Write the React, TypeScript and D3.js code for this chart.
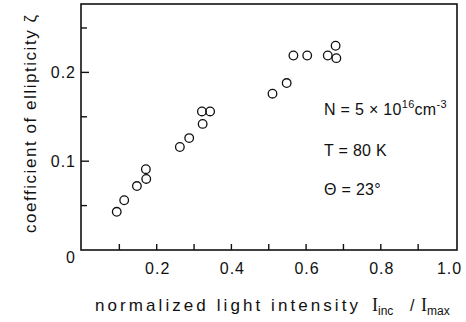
import { useEffect, useRef } from 'react'
import * as d3 from 'd3'

// intensity I_inc / I_max
const intensity = [
  0.093, 0.113, 0.147, 0.172, 0.171,
  0.262, 0.287, 0.323, 0.321, 0.343,
  0.510, 0.548, 0.566, 0.603, 0.658, 0.681, 0.679,
]
// coefficient of ellipticity
const ellipticity = [
  0.043, 0.056, 0.072, 0.080, 0.091,
  0.116, 0.126, 0.142, 0.156, 0.156,
  0.176, 0.188, 0.219, 0.219, 0.219, 0.216, 0.230,
]

const xTicks = [0.1, 0.2, 0.3, 0.4, 0.5, 0.6, 0.7, 0.8, 0.9]
const xLabels = [0.2, 0.4, 0.6, 0.8, 1.0]
const yTicks = [0.05, 0.1, 0.15, 0.2, 0.25]
const yLabels = [0, 0.1, 0.2]

const WIDTH = 466
const HEIGHT = 322
const FONT = '"Liberation Sans", Arial, sans-serif'
const SERIF = '"Liberation Serif", serif'

export default function App() {
  const svgRef = useRef<SVGSVGElement>(null)

  useEffect(() => {
    if (!svgRef.current) return
    const svg = d3.select(svgRef.current)
    svg.selectAll('*').remove()

    const x = d3.scaleLinear().domain([0, 1]).range([82, 455.5])
    const y = d3.scaleLinear().domain([0, 0.277]).range([250, 4])

    const left = x(0) - 1
    const right = x(1.004)
    const top = y(0.277)
    const bottom = y(0)

    // frame
    svg.append('rect')
      .attr('x', left).attr('y', top)
      .attr('width', right - left).attr('height', bottom - top)
      .attr('fill', 'none').attr('stroke', '#111').attr('stroke-width', 1.6)

    // ticks point inward
    const g = svg.append('g').attr('stroke', '#111').attr('stroke-width', 1.4)
    xTicks.forEach(t => {
      g.append('line')
        .attr('x1', x(t)).attr('x2', x(t))
        .attr('y1', bottom).attr('y2', bottom - 6)
    })
    yTicks.forEach(t => {
      g.append('line')
        .attr('x1', left).attr('x2', left + (t === 0.1 || t === 0.2 ? 8 : 6))
        .attr('y1', y(t)).attr('y2', y(t))
    })

    const txt = svg.append('g')
      .attr('font-family', FONT).attr('fill', '#111')

    xLabels.forEach(t => {
      txt.append('text')
        .attr('x', t === 1 ? x(t) - 6 : x(t) + 1)
        .attr('y', 274)
        .attr('text-anchor', 'middle')
        .attr('font-size', 16)
        .attr('letter-spacing', 1)
        .text(d3.format('.1f')(t))
    })
    yLabels.forEach(t => {
      txt.append('text')
        .attr('x', 76)
        .attr('y', t === 0 ? y(t) + 13 : y(t) + 6)
        .attr('text-anchor', 'end')
        .attr('font-size', 16)
        .attr('letter-spacing', 1)
        .text(t === 0 ? '0' : d3.format('.1f')(t))
    })

    // x title
    txt.append('text')
      .attr('x', 95).attr('y', 311)
      .attr('font-size', 17)
      .attr('textLength', 263)
      .attr('lengthAdjust', 'spacing')
      .text('normalized light intensity')
    const sub = (x0: number, label: string) => {
      const t = txt.append('text').attr('x', x0).attr('y', 311)
      t.append('tspan').attr('font-family', SERIF).attr('font-size', 18).text('I')
      t.append('tspan').attr('dy', 4).attr('font-size', 12).text(label)
    }
    sub(372, 'inc')
    txt.append('text').attr('x', 410).attr('y', 311).attr('font-size', 16).text('/')
    sub(421, 'max')

    // y title
    txt.append('text')
      .attr('transform', 'translate(36,124) rotate(-90)')
      .attr('text-anchor', 'middle')
      .attr('font-size', 17)
      .attr('textLength', 218)
      .attr('lengthAdjust', 'spacing')
      .text('coefficient of ellipticity ζ')

    // annotations
    const n = txt.append('text').attr('x', 324).attr('y', 115).attr('font-size', 16).attr('letter-spacing', 0.3)
    n.append('tspan').text('N = 5 × 10')
    n.append('tspan').attr('dy', -7).attr('font-size', 11).text('16')
    n.append('tspan').attr('dy', 7).text('cm')
    n.append('tspan').attr('dy', -7).attr('font-size', 11).text('-3')

    txt.append('text').attr('x', 324).attr('y', 156).attr('font-size', 16).attr('letter-spacing', 0.3).text('T = 80 K')
    txt.append('text').attr('x', 324).attr('y', 195).attr('font-size', 16).attr('letter-spacing', 0.3).text('Θ = 23°')

    // data points
    svg.append('g')
      .selectAll('circle')
      .data(intensity.map((v, i) => [v, ellipticity[i]]))
      .join('circle')
      .attr('cx', d => x(d[0]))
      .attr('cy', d => y(d[1]))
      .attr('r', 4.3)
      .attr('fill', 'none')
      .attr('stroke', '#111')
      .attr('stroke-width', 1.3)
  }, [])

  return (
    <div style={{ position: 'absolute', left: 0, top: 0 }}>
      <svg ref={svgRef} width={WIDTH} height={HEIGHT} style={{ display: 'block', background: '#fff' }} />
    </div>
  )
}
